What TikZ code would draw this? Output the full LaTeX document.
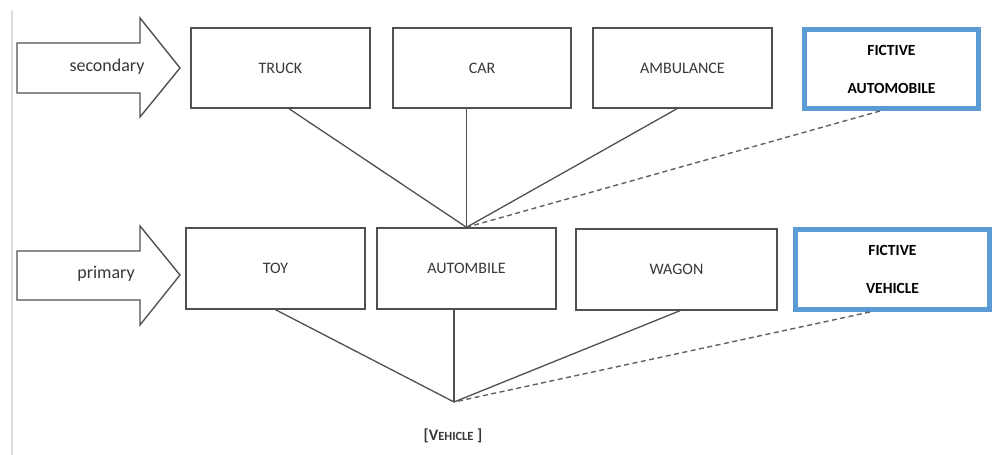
\documentclass[tikz,border=0pt]{standalone}
\usepackage{fontspec}
\setmainfont{Carlito}
\usetikzlibrary{calc}
\definecolor{edge}{HTML}{505050}
\definecolor{ink}{HTML}{383838}
\definecolor{fictblue}{HTML}{5B9BD5}
\begin{document}
\begin{tikzpicture}[x=1bp,y=-1bp,
  box/.style={draw=edge,line width=1.4bp,rectangle,inner sep=0pt,
    font=\fontsize{16bp}{18bp}\selectfont,text=ink},
  fictbox/.style={draw=fictblue,line width=5bp,rectangle,inner sep=0pt,
    align=center,font=\fontsize{15.5bp}{38bp}\selectfont\bfseries,text=black},
  link/.style={draw=edge,line width=1.3bp},
  fictlink/.style={draw=edge!90,line width=1.4bp,dash pattern=on 5bp off 3.5bp},
  bigarrow/.style={draw=edge,line width=1.4bp,fill=white,line join=miter},
  arrowlabel/.style={font=\fontsize{18bp}{20bp}\selectfont,text=ink}]
\useasboundingbox (0,0) rectangle (993,455);
\fill[white] (0,0) rectangle (993,455);
% faint margin rule at the left
\draw[gray!25,line width=2.5bp] (12,10) -- (12,455);

% level arrows
\draw[bigarrow] (17,43) -- (140,43) -- (140,18) -- (180,68) -- (140,117)
  -- (140,93) -- (17,93) -- cycle;
\node[arrowlabel] (lsec) at (107,67) {secondary};
\draw[bigarrow] (17,251) -- (140,251) -- (140,226) -- (180,275) -- (140,325)
  -- (140,300) -- (17,300) -- cycle;
\node[arrowlabel] (lpri) at (106,274) {primary};

% secondary row
\node[box,minimum width=179bp,minimum height=80bp] (truck) at (280.5,68) {TRUCK};
\node[box,minimum width=178bp,minimum height=80bp] (car) at (482,68) {CAR};
\node[box,minimum width=179bp,minimum height=80bp] (amb) at (682.5,68) {AMBULANCE};
\node[fictbox,minimum width=174bp,minimum height=79bp] (fauto) at (891.5,69)
  {FICTIVE\\AUTOMOBILE};

% primary row
\node[box,minimum width=179bp,minimum height=81bp] (toy) at (275.5,268.5) {TOY};
\node[box,minimum width=179bp,minimum height=81bp] (autom) at (466.5,268.5) {AUTOMBILE};
\node[box,minimum width=201bp,minimum height=81bp] (wagon) at (676.5,269.5) {WAGON};
\node[fictbox,minimum width=194bp,minimum height=80bp] (fveh) at (892.5,269.5)
  {FICTIVE\\VEHICLE};

% joints
\coordinate (j1) at (autom.north);
\coordinate (j2) at (454,402);
\node[font=\fontsize{16bp}{18bp}\selectfont\bfseries,text=ink] (vehicle) at (453,436)
  {[V{\fontsize{12.5bp}{14bp}\selectfont EHICLE} ]};

% links of the secondary row
\draw[link] ($(truck.south)+(8.5,0)$) -- (j1);
\draw[link] (car.south -| j1) -- (j1);
\draw[link] ($(amb.south)+(-5.5,0)$) -- (j1);
\draw[fictlink] ($(fauto.south)+(-11.5,0)$) -- (j1);

% links of the primary row
\draw[link] (toy.south) -- (j2);
\draw[link] (autom.south -| j2) -- (j2);
\draw[link] ($(wagon.south)+(3.5,0)$) -- (j2);
\draw[fictlink] ($(fveh.south)+(-22.5,0)$) -- (j2);
\end{tikzpicture}
\end{document}
